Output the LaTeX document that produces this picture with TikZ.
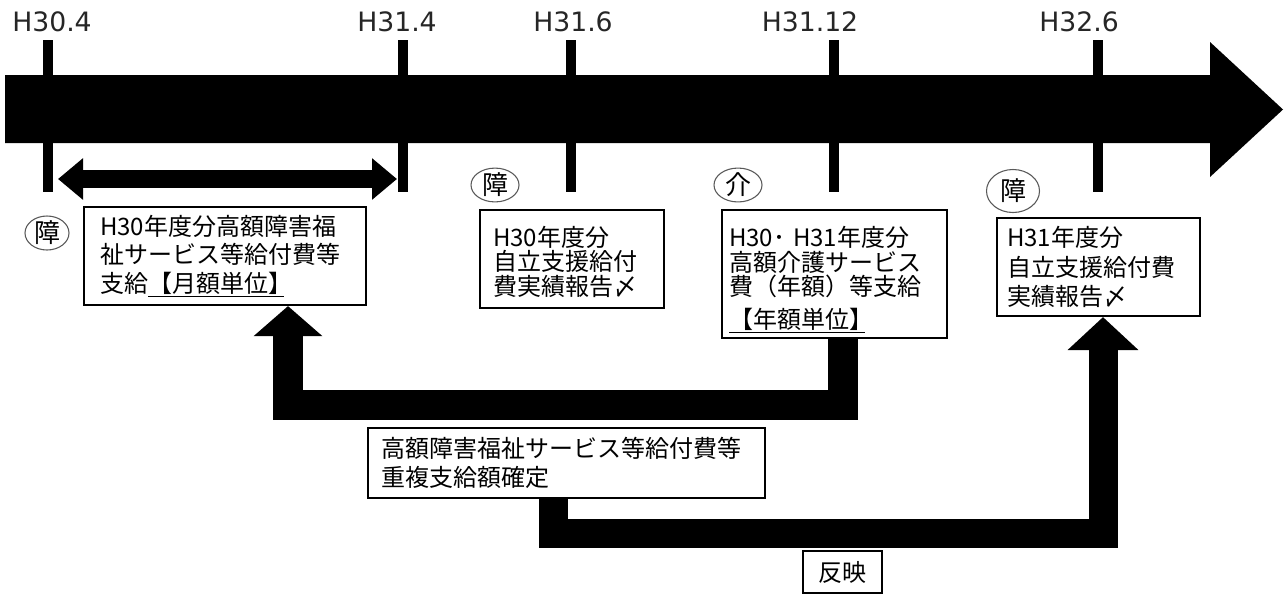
\documentclass[tikz,border=0pt]{standalone}
\usepackage{fontspec}
\setmainfont{Noto Sans CJK JP}
\newfontfamily\lab{DejaVu Sans}
\usetikzlibrary{arrows.meta,shapes.geometric,calc}
\begin{document}
\begin{tikzpicture}[x=0.75pt,y=-0.75pt,
  box/.style={draw,line width=1.6pt,inner ysep=0pt,align=left},
  tag/.style={draw=black!65,line width=0.8pt,ellipse,inner sep=0pt,font=\fontsize{19.5pt}{19.5pt}\selectfont},
  tickmark/.style={line width=7.5pt},
  datelabel/.style={font=\lab\fontsize{20pt}{21pt}\selectfont,text=black!85},
  fatarrow/.style={line width=22.5pt,line join=miter}
]
\fill[white] (0,0) rectangle (1284,594);
\useasboundingbox (0,0) rectangle (1284,594);

% main time arrow
\fill (5,75) -- (1210,75) -- (1210,42) -- (1283,109.5) -- (1210,177) -- (1210,143) -- (5,143) -- cycle;

% ticks
\draw[tickmark] (48,40) -- (48,192);
\draw[tickmark] (403,40) -- (403,192);
\draw[tickmark] (571,40) -- (571,192);
\draw[tickmark] (834,40) -- (834,192);
\draw[tickmark] (1098,40) -- (1098,192);

% date labels
\node[datelabel] (L1) at (52,22) {H30.4};
\node[datelabel] (L2) at (397,22) {H31.4};
\node[datelabel] (L3) at (573,22) {H31.6};
\node[datelabel] (L4) at (810,22) {H31.12};
\node[datelabel] (L5) at (1079,22) {H32.6};

% double arrow
\coordinate (dA) at (58,179);
\coordinate (dB) at (397,179);
\draw[line width=13.5pt,{Triangle[width=30pt,length=18.75pt]}-{Triangle[width=30pt,length=18.75pt]}] (dA) -- (dB);

% tags
\node[tag,minimum width=33pt,minimum height=25.5pt] (e1) at (47,233) {障};
\node[tag,minimum width=36pt,minimum height=24.75pt] (e2) at (495,185) {障};
\node[tag,minimum width=36pt,minimum height=24.75pt] (e3) at (738,185) {介};
\node[tag,minimum width=39.75pt,minimum height=32.25pt] (e4) at (1013,191) {障};

% boxes
\node[box,inner xsep=12pt,text width=187.5pt,minimum height=73.5pt,
  font=\fontsize{18pt}{21.4pt}\selectfont] (b1) at (225,256)
  {H30年度分高額障害福\\祉サービス等給付費等\\支給\underline{【月額単位】\kern-6pt}};
\node[box,inner xsep=9.75pt,text width=118.5pt,minimum height=73.5pt,
  font=\fontsize{18pt}{18.4pt}\selectfont] (b2) at (572,259)
  {\rule{0pt}{19pt}H30年度分\\自立支援給付\\費実績報告〆};
\node[box,inner xsep=5.25pt,text width=158.25pt,minimum height=96pt,
  font=\fontsize{18pt}{18.4pt}\selectfont] (b3) at (834.5,274)
  {\rule{0pt}{24pt}H30･ H31年度分\\高額介護サービス\\費（年額）等支給\\[6.4pt]\underline{【年額単位】\kern-6pt}};
\node[box,inner xsep=7.5pt,text width=137.25pt,minimum height=73.5pt,
  font=\fontsize{18pt}{22pt}\selectfont] (b4) at (1098.5,267)
  {H31年度分\\自立支援給付費\\実績報告〆};
\node[box,inner xsep=9.75pt,text width=278.25pt,minimum height=52.5pt,
  font=\fontsize{18pt}{21.75pt}\selectfont] (b5) at (566.5,463)
  {高額障害福祉サービス等給付費等\\重複支給額確定};
\node[box,minimum width=59.25pt,minimum height=31.5pt,inner sep=0pt,
  font=\fontsize{18pt}{18pt}\selectfont] (b6) at (842.5,572) {反映};

% fat connectors
\draw[fatarrow,-{Triangle[width=50.25pt,length=22.5pt]}]
  ($(b3.south)+(8.5,0)$) -- ++(0,65.5) -| ($(b1.south)+(63,0)$);
\draw[fatarrow,line width=21.75pt,-{Triangle[width=51.75pt,length=24.75pt]}]
  ($(b5.south)+(-13.5,0)$) -- ++(0,34.5) -| ($(b4.south)+(4.5,0)$);
\end{tikzpicture}
\end{document}
